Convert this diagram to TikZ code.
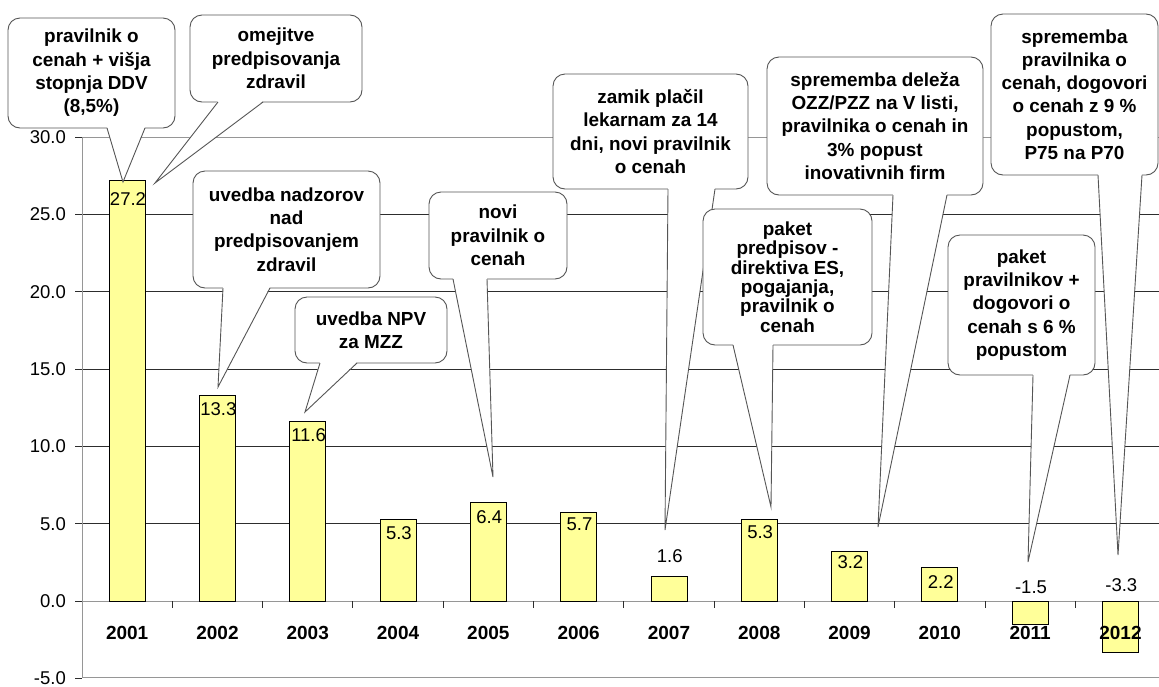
\documentclass[tikz,border=0pt]{standalone}
\usepackage{fontspec}
\setmainfont{Liberation Sans}
\usetikzlibrary{positioning}
\definecolor{barfill}{RGB}{255,255,153}
\definecolor{boxline}{RGB}{85,85,85}
\definecolor{gridline}{RGB}{45,45,45}
\definecolor{axisline}{RGB}{150,150,150}
\tikzset{
  gridln/.style={gridline, line width=0.9pt},
  axisln/.style={axisline, line width=1pt},
  bar/.style={draw=black, fill=barfill, line width=0.9pt},
  vallabel/.style={inner sep=0pt, font=\fontsize{18.5}{22}\selectfont},
  yearlabel/.style={inner sep=0pt, font=\bfseries\fontsize{19}{22}\selectfont},
  ticklabel/.style={inner sep=0pt, anchor=base east, text depth=0pt, font=\fontsize{18.5}{22}\selectfont},
  balloon/.style={draw=boxline, fill=white, line width=0.9pt, rounded corners=12pt},
  notetext/.style={inner sep=0pt, align=center, font=\bfseries\fontsize{18.9}{#1}\selectfont},
}

\begin{document}
\begin{tikzpicture}[x=1pt, y=-1pt]
    \useasboundingbox (0,0) rectangle (1159,686);
    % grid and axes (zero at y=601, 15.467 per unit)
    \foreach \v in {5,10,...,25}
        \draw[gridln] (82,601-\v*15.467) -- (1159,601-\v*15.467);
    \draw[axisln] (82,137) -- (1159,137);
    \draw[axisln] (82,677) -- (1159,677);
    \draw[axisln] (82,601) -- (1159,601);
    \draw[axisln] (82,137) -- (82,677);
    \foreach \v in {-5,0,...,30} {
        \draw[gridln] (75,601-\v*15.467) -- (82,601-\v*15.467);
        \node[ticklabel] (tick\v) at (66,607.6-\v*15.467) {\v.0};
    }
    \foreach \k in {1,...,11}
        \draw[gridln] (82+\k*90.3,601) -- (82+\k*90.3,608);
    % bars with values
    \foreach \v/\ly [count=\i from 0] in {27.2/199, 13.3/409, 11.6/435, 5.3/533, 6.4/517, 5.7/524,
            1.6/556, 5.3/532, 3.2/562, 2.2/582, -1.5/587, -3.3/585} {
        \draw[bar] (127.15+\i*90.3-18,601) rectangle (127.15+\i*90.3+18,{601-(\v)*15.467});
        \node[vallabel] (val\i) at (128+\i*90.3,\ly) {\v};
    }
    \foreach \yr [count=\i from 0] in {2001,...,2012}
        \node[yearlabel] (yr\yr) at (127.15+\i*90.3,633) {\yr};
    % callouts: box, pointer base, tip, line spacing, text
    \foreach \xa/\ya/\xb/\yb/\ba/\bb/\tx/\ty/\ls/\txt [count=\i] in {
        8/18/175/128/107/145/123/182/23.3/{pravilnik o\\cenah + višja\\stopnja DDV\\(8,5\%)},
        190/15/362/102/218/263/155/183/23.3/{omejitve\\predpisovanja\\zdravil},
        193/171/380/288/223/270/218/387/23.3/{uvedba nadzorov\\nad\\predpisovanjem\\zdravil},
        295/297/447/363/320/357/305/412/23.3/{uvedba NPV\\za MZZ},
        429/192/567/279/453/487/493/477/23.3/{novi\\pravilnik o\\cenah},
        553/74/748/189/668/715/665/530/23.3/{zamik plačil\\lekarnam za 14\\dni, novi pravilnik\\o cenah},
        703/209/872/345/733/773/771/507/19.3/{paket\\predpisov -\\direktiva ES,\\pogajanja,\\pravilnik o\\cenah},
        767/57/983/195/893/947/878/527/23.3/{sprememba deleža\\OZZ/PZZ na V listi,\\pravilnika o cenah in\\3\% popust\\inovativnih firm},
        948/235/1095/375/1033/1070/1028/562/23.3/{paket\\pravilnikov +\\dogovori o\\cenah s 6 \%\\popustom},
        991/14/1158/175/1098/1142/1118/555/23.3/{sprememba\\pravilnika o\\cenah, dogovori\\o cenah z 9 \%\\popustom,\\P75 na P70}} {
        \draw[balloon] (\xa,\ya) rectangle (\xb,\yb);
        \fill[white] (\ba,\yb-1.2) -- (\tx,\ty) -- (\bb,\yb-1.2) -- cycle;
        \draw[boxline, line width=0.9pt] (\ba,\yb) -- (\tx,\ty) -- (\bb,\yb);
        \node[notetext=\ls] (note\i) at ({(\xa+\xb)/2},{(\ya+\yb)/2}) {\txt};
    }
\end{tikzpicture}
\end{document}
